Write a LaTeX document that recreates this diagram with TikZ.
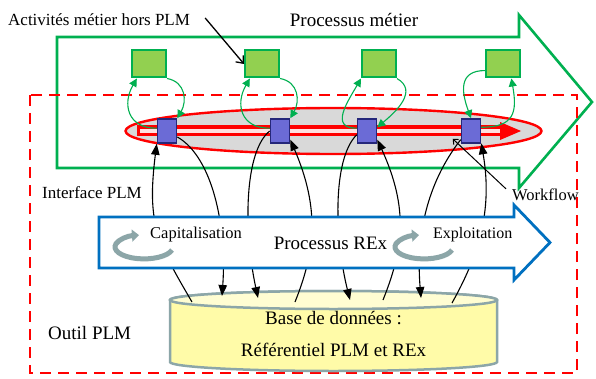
\documentclass[tikz,border=0pt]{standalone}
\usepackage{fontspec}
\setmainfont{Liberation Serif}
\usetikzlibrary{arrows.meta}

\definecolor{vertfonce}{HTML}{00B050}
\definecolor{vertclair}{HTML}{92D050}
\definecolor{bleurex}{HTML}{0070C0}
\definecolor{bleutache}{HTML}{6B6BD6}
\definecolor{bleunuit}{HTML}{25277A}
\definecolor{grisbleu}{HTML}{8CA6A8}
\definecolor{jaunebd}{HTML}{FFFBA8}
\definecolor{jaunehaut}{HTML}{FFFDD2}
\definecolor{grisflux}{HTML}{D9D9D9}

\begin{document}
\begin{tikzpicture}[x=1pt,y=1pt]
	\tikzstyle{processus}=[vertfonce,line width=2.6pt,line join=miter]
	\tikzstyle{outil}=[red,line width=2.6pt,dash pattern=on 11pt off 7pt]
	\tikzstyle{flux}=[fill=grisflux,draw=red,line width=2.4pt]
	\tikzstyle{rex}=[draw=bleurex,fill=white,line width=2.8pt,line join=miter]
	\tikzstyle{base}=[draw=grisbleu,fill=jaunebd,line width=2.5pt]
	\tikzstyle{metier}=[draw=vertfonce,fill=vertclair,line width=2pt,minimum width=34pt,minimum height=27pt,inner sep=0pt]
	\tikzstyle{tache}=[draw=bleunuit,fill=bleutache,line width=1.6pt,minimum width=19pt,minimum height=24pt,inner sep=0pt]
	\tikzstyle{boucle}=[vertfonce,line width=1.1pt,-{Triangle[length=8pt,width=8pt]}]
	\tikzstyle{lien}=[black,line width=1.1pt,-{Triangle[length=11pt,width=8.5pt]}]
	\tikzstyle{tourne}=[grisbleu,line width=5pt,-{Triangle[length=7pt,width=12pt]}]
	\tikzstyle{etiquette}=[inner sep=0pt,font=\fontsize{17}{20}\selectfont]
	\tikzstyle{grand}=[inner sep=0pt,font=\fontsize{19}{22}\selectfont]

	\useasboundingbox (0,0) rectangle (596,378);
	\fill[white] (0,0) rectangle (596,378);

	\draw[processus] (57,341) -- (519,341) -- (519,363) -- (592,276) -- (519,190) -- (519,210) -- (57,210) -- cycle;
	\draw[outil] (30,283) rectangle (577,5);
	\filldraw[flux] (333.5,247) ellipse [x radius=208, y radius=23];
	\draw[red,line width=11pt] (137,247) -- (503,247);
	\draw[red!12,line width=3.5pt] (140,247) -- (503,247);
	\fill[red] (500,256) -- (521,247) -- (500,238) -- cycle;

	\filldraw[base] (170,78) -- (170,16) arc [start angle=180, end angle=360, x radius=163.5, y radius=9] -- (497,78) arc [start angle=0, end angle=180, x radius=163.5, y radius=9] -- cycle;
	\filldraw[base,fill=jaunehaut] (333.5,78) ellipse [x radius=163.5, y radius=9];

	\node[metier] (s1) at (149,314) {};
	\node[metier] (s2) at (262,314) {};
	\node[metier] (s3) at (379,314) {};
	\node[metier] (s4) at (503,314) {};
	\node[tache] (r1) at (167,247) {};
	\node[tache] (r2) at (280,247) {};
	\node[tache] (r3) at (367,247) {};
	\node[tache] (r4) at (471,247) {};

	\coordinate (d1) at (192,76);
	\coordinate (d2) at (222,82);
	\coordinate (d3) at (258,80);
	\coordinate (d4) at (295,76);
	\coordinate (d5) at (350,78);
	\coordinate (d6) at (383,78);
	\coordinate (d7) at (421,80);
	\coordinate (d8) at (452,75);

	\draw[lien] (d1) .. controls +(-35,60) and +(-10,-80) .. (r1.south west);
	\draw[lien] (r1.-30) .. controls +(35,-20) and +(5,70) .. (d2);
	\draw[lien] (r2.west) .. controls +(-25,-20) and +(-15,70) .. (d3);
	\draw[lien] (d4) .. controls +(20,50) and +(30,-70) .. (r2.-40);
	\draw[lien] (r3.200) .. controls +(-25,-25) and +(-15,60) .. (d5);
	\draw[lien] (d6) .. controls +(20,50) and +(32,-70) .. (r3.-40);
	\draw[lien] (r4.220) .. controls +(-35,-45) and +(-5,60) .. (d7);
	\draw[lien] (d8) .. controls +(25,45) and +(12,-70) .. (r4.-50);

	\draw[boucle] (r1.165) to[out=180,in=-120,looseness=1.4] (s1.230);
	\draw[boucle] (s1.south east) to[out=-10,in=60,looseness=1.2] (r1.north east);
	\draw[boucle] (r2.165) to[out=180,in=-120,looseness=1.4] (s2.230);
	\draw[boucle] (s2.south east) to[out=-10,in=60,looseness=1.2] (r2.north east);
	\draw[boucle] (r3.165) to[out=180,in=-120,looseness=1.4] (s3.south west);
	\draw[boucle] (s3.south east) to[out=-30,in=40,looseness=1.2] (r3.20);
	\draw[boucle] (s4.200) to[out=180,in=110,looseness=1.4] (r4.north);
	\draw[boucle] (r4.20) to[out=0,in=-80,looseness=1.5] (s4.-60);

	\filldraw[rex] (99,161) -- (514,161) -- (514,173) -- (550,135.5) -- (514,98) -- (514,110) -- (99,110) -- cycle;
	\draw[tourne] (172,128) arc [start angle=-15, end angle=-260, x radius=29, y radius=12];
	\draw[tourne] (452,128) arc [start angle=-15, end angle=-260, x radius=29, y radius=12];

	\node[etiquette,anchor=west] (hors) at (8,358) {Activités métier hors PLM};
	\node[grand] (metiertxt) at (354,358) {Processus métier};
	\node[etiquette,anchor=west] (interface) at (42,185) {Interface PLM};
	\node[etiquette,anchor=west,font=\fontsize{16.5}{20}\selectfont] (wf) at (512,183) {Workflow};
	\node[etiquette,anchor=west,font=\fontsize{16.5}{20}\selectfont] (capi) at (150,143) {Capitalisation};
	\node[grand] (rextxt) at (330.5,135) {Processus REx};
	\node[etiquette,anchor=west,font=\fontsize{16}{20}\selectfont] (exploi) at (433,143) {Exploitation};
	\node[grand,anchor=west] (outiltxt) at (48,45) {Outil PLM};
	\node[grand,align=center,font=\fontsize{19}{32}\selectfont] (db) at (333.5,44) {Base de données :\\Référentiel PLM et REx};

	\draw[line width=1.3pt,-{Straight Barb[length=6pt,width=10pt]}] ([xshift=15pt,yshift=2pt]hors.east) -- (s2.west);
	\draw[line width=1pt,-{Straight Barb[length=4pt,width=7pt]}] ([xshift=-6pt]wf.north west) -- ([shift={(-8pt,5pt)}]r4.south west);
\end{tikzpicture}
\end{document}
